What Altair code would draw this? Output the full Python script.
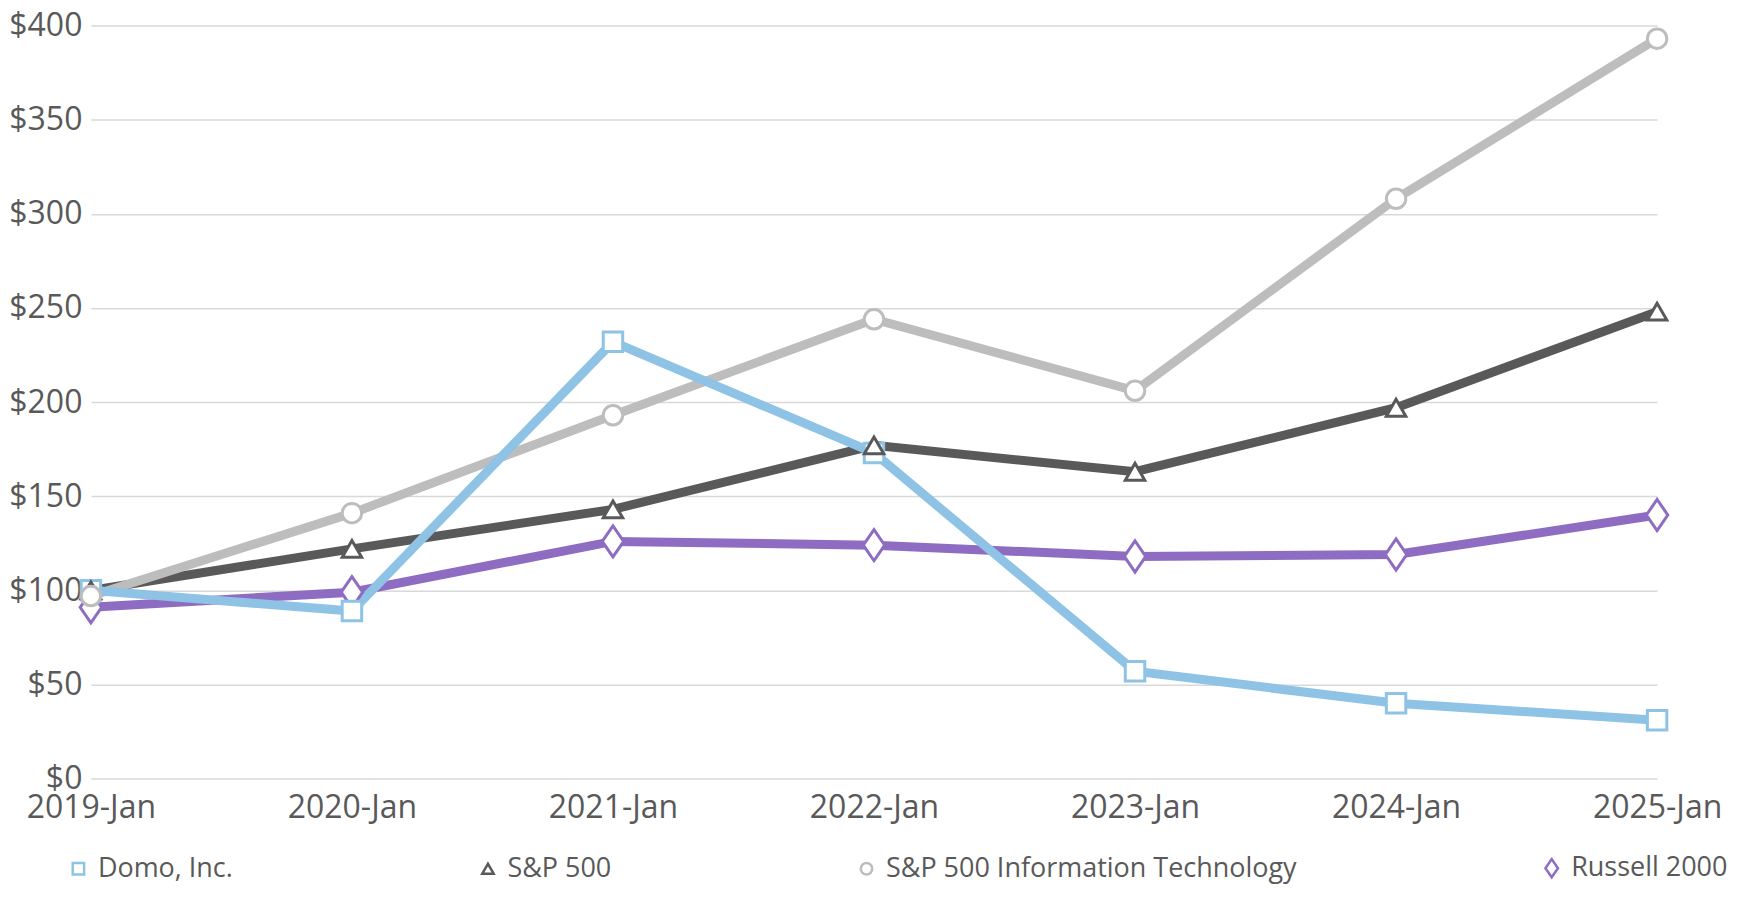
import altair as alt
import pandas as pd

years = ["2019-Jan", "2020-Jan", "2021-Jan", "2022-Jan", "2023-Jan", "2024-Jan", "2025-Jan"]
series_names = ["Domo, Inc.", "S&P 500", "S&P 500 Information Technology", "Russell 2000"]
domo = [100, 89, 232, 173, 57, 40, 31]
sp500 = [100, 122, 143, 177, 163, 197, 248]
sp_it = [97, 141, 193, 244, 206, 308, 393]
russell = [91, 99, 126, 124, 118, 119, 140]
y_ticks = [0, 50, 100, 150, 200, 250, 300, 350, 400]

colors = ["#8EC3E6", "#595959", "#BDBDBD", "#8E6CC2"]
shapes = ["square", "triangle-up", "circle", "M-1.1,0L0,-1.6L1.1,0L0,1.6Z"]

values = {
    "Domo, Inc.": domo,
    "S&P 500": sp500,
    "S&P 500 Information Technology": sp_it,
    "Russell 2000": russell,
}

def frame(order):
    rows = []
    for k, name in enumerate(order):
        for yr, v in zip(years, values[name]):
            rows.append({"year": yr, "value": v, "series": name, "k": k})
    return pd.DataFrame(rows)

line_df = frame(["S&P 500", "Russell 2000", "S&P 500 Information Technology", "Domo, Inc."])
point_df = frame(["Russell 2000", "Domo, Inc.", "S&P 500", "S&P 500 Information Technology"])

FONT = "Open Sans"
TXT = "#595959"

x_enc = alt.X("year:O", sort=years, scale=alt.Scale(domain=years, padding=0),
              axis=alt.Axis(title=None, labelAngle=0, labelFontSize=32, labelColor=TXT,
                            labelFont=FONT, labelPadding=14,
                            ticks=False, domain=False, grid=False))
y_enc = alt.Y("value:Q", scale=alt.Scale(domain=[0, 400], nice=False),
              axis=alt.Axis(title=None, values=y_ticks, format="$,.0f", labelFontSize=32,
                            labelColor=TXT, labelFont=FONT,
                            labelPadding=9, ticks=False, domain=False, grid=True,
                            gridColor="#D9D9D9", gridWidth=1.5))

stroke_scale = alt.Scale(domain=series_names, range=colors)
shape_scale = alt.Scale(domain=series_names, range=shapes)

legend = alt.Legend(title=None, orient="none", legendX=-26, legendY=830,
                    direction="horizontal", columns=4, columnPadding=241,
                    labelFontSize=27, labelColor=TXT, labelFont=FONT,
                    labelLimit=0, symbolSize=130, symbolStrokeWidth=2.5,
                    symbolFillColor="white", labelOffset=6)

lines = alt.Chart(line_df).mark_line(strokeWidth=9).encode(
    x=x_enc, y=y_enc,
    stroke=alt.Stroke("series:N", scale=stroke_scale, legend=legend),
    detail="series:N",
    order="k:Q",
)

points = alt.Chart(point_df).mark_point(filled=False, fill="white", fillOpacity=1,
                                        opacity=1, size=380, strokeWidth=3).encode(
    x=x_enc, y=y_enc,
    stroke=alt.Stroke("series:N", scale=stroke_scale, legend=legend),
    shape=alt.Shape("series:N", scale=shape_scale, legend=legend),
)

chart = alt.layer(lines, points).properties(
    width=1568, height=754,
    padding={"left": 83, "top": 17, "right": 75, "bottom": 115},
    autosize=alt.AutoSizeParams(type="none"),
).configure(font=FONT).configure_view(stroke=None)

chart.save("out.html", embed_options={"renderer": "svg", "actions": False})
